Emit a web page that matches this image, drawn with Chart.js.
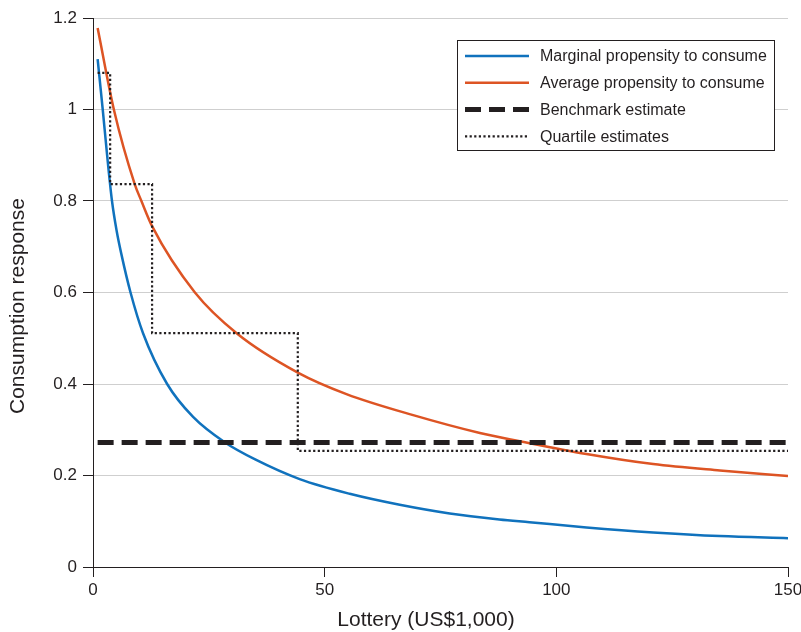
<!DOCTYPE html>
<html>
<head>
<meta charset="utf-8">
<script src="https://cdn.jsdelivr.net/npm/chart.js@4.4.1/dist/chart.umd.min.js"></script>
<style>
  html, body { margin: 0; padding: 0; background: #fff; }
  #wrap { width: 801px; height: 632px; }
</style>
</head>
<body>
<div id="wrap"><canvas id="chart" width="801" height="632"></canvas></div>
<script>
// lottery size (US$1,000) vs. consumption response
const mpcX = [1, 2.1, 3.0, 4.1, 5.1, 6.1, 8.1, 10.8, 16, 21.6, 28.5, 35, 44.6, 55.4, 66.2, 77, 87.7, 94.2, 106.5, 120.9, 135.3, 150];
const mpcY = [1.110, 1.0, 0.905, 0.80, 0.735, 0.685, 0.60, 0.511, 0.40, 0.328, 0.272, 0.235, 0.192, 0.160, 0.136, 0.117, 0.104, 0.098, 0.0865, 0.0755, 0.0675, 0.063];

const apcX = [1, 4.5, 9.0, 10.45, 12.75, 22, 31, 44.2, 54.7, 69.1, 83.5, 92.1, 106.5, 120.9, 135.3, 150];
const apcY = [1.178, 1.0, 0.837, 0.80, 0.745, 0.60, 0.511, 0.425, 0.378, 0.332, 0.293, 0.275, 0.247, 0.225, 0.211, 0.199];

const benchmarkX = [1, 150];
const benchmarkY = [0.272, 0.272];

// step edges of the quartile estimates
const quartileX = [1, 3.7, 12.75, 44.2, 150];
const quartileY = [1.08, 0.837, 0.511, 0.254, 0.254];

const seriesNames = ['Marginal propensity to consume', 'Average propensity to consume', 'Benchmark estimate', 'Quartile estimates'];

const xTicks = [0, 50, 100, 150];
const xTickLabels = ['0', '50', '100', '150'];
const yTicks = [0, 0.2, 0.4, 0.6, 0.8, 1, 1.2];
const yTickLabels = ['0', '0.2', '0.4', '0.6', '0.8', '1', '1.2'];

const xTitle = 'Lottery (US$1,000)';
const yTitle = 'Consumption response';

const FONT = "'Liberation Sans', Arial, Helvetica, sans-serif";
const INK = '#231f20';

const toPoints = (xs, ys) => xs.map((x, i) => ({ x: x, y: ys[i] }));

// boxed legend inside the top-right corner of the plot
const boxLegend = {
    id: 'boxLegend',
    afterDatasetsDraw(chart) {
        const { ctx, chartArea } = chart;
        const w = 317, h = 110;
        const left = chartArea.right - 14 - w, top = chartArea.top + 22;
        ctx.save();
        ctx.fillStyle = '#fff';
        ctx.fillRect(left, top, w, h);
        ctx.strokeStyle = INK;
        ctx.lineWidth = 1;
        ctx.strokeRect(left + 0.5, top + 0.5, w, h);
        ctx.font = '16px ' + FONT;
        ctx.textBaseline = 'middle';
        ctx.textAlign = 'left';
        seriesNames.forEach((name, i) => {
            const ds = chart.data.datasets[i];
            const y = top + 16 + i * 26.8;
            ctx.beginPath();
            ctx.setLineDash(ds.borderDash || []);
            ctx.lineDashOffset = 0;
            ctx.strokeStyle = ds.borderColor;
            ctx.lineWidth = ds.borderWidth;
            ctx.lineCap = 'butt';
            ctx.moveTo(left + 8, y);
            ctx.lineTo(left + 72, y);
            ctx.stroke();
            ctx.setLineDash([]);
            ctx.fillStyle = INK;
            ctx.fillText(name, left + 83, y + 1);
        });
        ctx.restore();
    }
};

// axis titles
const axisTitles = {
    id: 'axisTitles',
    afterDraw(chart) {
        const { ctx } = chart;
        ctx.save();
        ctx.fillStyle = INK;
        ctx.font = '21px ' + FONT;
        ctx.textAlign = 'center';
        ctx.textBaseline = 'middle';
        ctx.fillText(xTitle, 426, 620);
        ctx.translate(18, 306);
        ctx.rotate(-Math.PI / 2);
        ctx.fillText(yTitle, 0, 0);
        ctx.restore();
    }
};

new Chart(document.getElementById('chart'), {
    type: 'line',
    data: {
        datasets: [
            {
                label: seriesNames[0],
                data: toPoints(mpcX, mpcY),
                borderColor: '#1072bd',
                borderWidth: 2.5,
                cubicInterpolationMode: 'monotone',
                pointRadius: 0,
                order: 3
            },
            {
                label: seriesNames[1],
                data: toPoints(apcX, apcY),
                borderColor: '#dd5424',
                borderWidth: 2.5,
                cubicInterpolationMode: 'monotone',
                pointRadius: 0,
                order: 4
            },
            {
                label: seriesNames[2],
                data: toPoints(benchmarkX, benchmarkY),
                borderColor: INK,
                borderWidth: 5,
                borderDash: [16, 8],
                pointRadius: 0,
                order: 1
            },
            {
                label: seriesNames[3],
                data: toPoints(quartileX, quartileY),
                borderColor: INK,
                borderWidth: 2.2,
                borderDash: [2.2, 2.4],
                stepped: true,
                pointRadius: 0,
                order: 2
            }
        ]
    },
    options: {
        responsive: false,
        animation: false,
        devicePixelRatio: 1,
        layout: { padding: { top: 18, right: 13, left: 0, bottom: 0 } },
        plugins: { legend: { display: false }, tooltip: { enabled: false } },
        scales: {
            x: {
                type: 'linear',
                min: 0,
                max: 150,
                afterBuildTicks: s => { s.ticks = xTicks.map(v => ({ value: v })); },
                afterFit: s => { s.height = 65; s.paddingLeft = 0; s.paddingRight = 0; },
                grid: { drawOnChartArea: false, tickLength: 10, tickColor: INK, tickWidth: 1 },
                border: { display: true, color: INK, width: 1 },
                ticks: {
                    color: INK,
                    font: { family: FONT, size: 17 },
                    padding: 3,
                    maxRotation: 0,
                    autoSkip: false,
                    callback: (v, i) => xTickLabels[i]
                }
            },
            y: {
                min: 0,
                max: 1.2,
                afterBuildTicks: s => { s.ticks = yTicks.map(v => ({ value: v })); },
                afterFit: s => { s.width = 93; s.paddingTop = 0; s.paddingBottom = 0; },
                grid: { color: '#cfcfcf', lineWidth: 1, tickLength: 10, tickColor: INK, tickWidth: 1 },
                border: { display: true, color: INK, width: 1 },
                ticks: {
                    color: INK,
                    font: { family: FONT, size: 17 },
                    padding: 6,
                    autoSkip: false,
                    callback: (v, i) => yTickLabels[i]
                }
            }
        }
    },
    plugins: [boxLegend, axisTitles]
});
</script>
</body>
</html>
